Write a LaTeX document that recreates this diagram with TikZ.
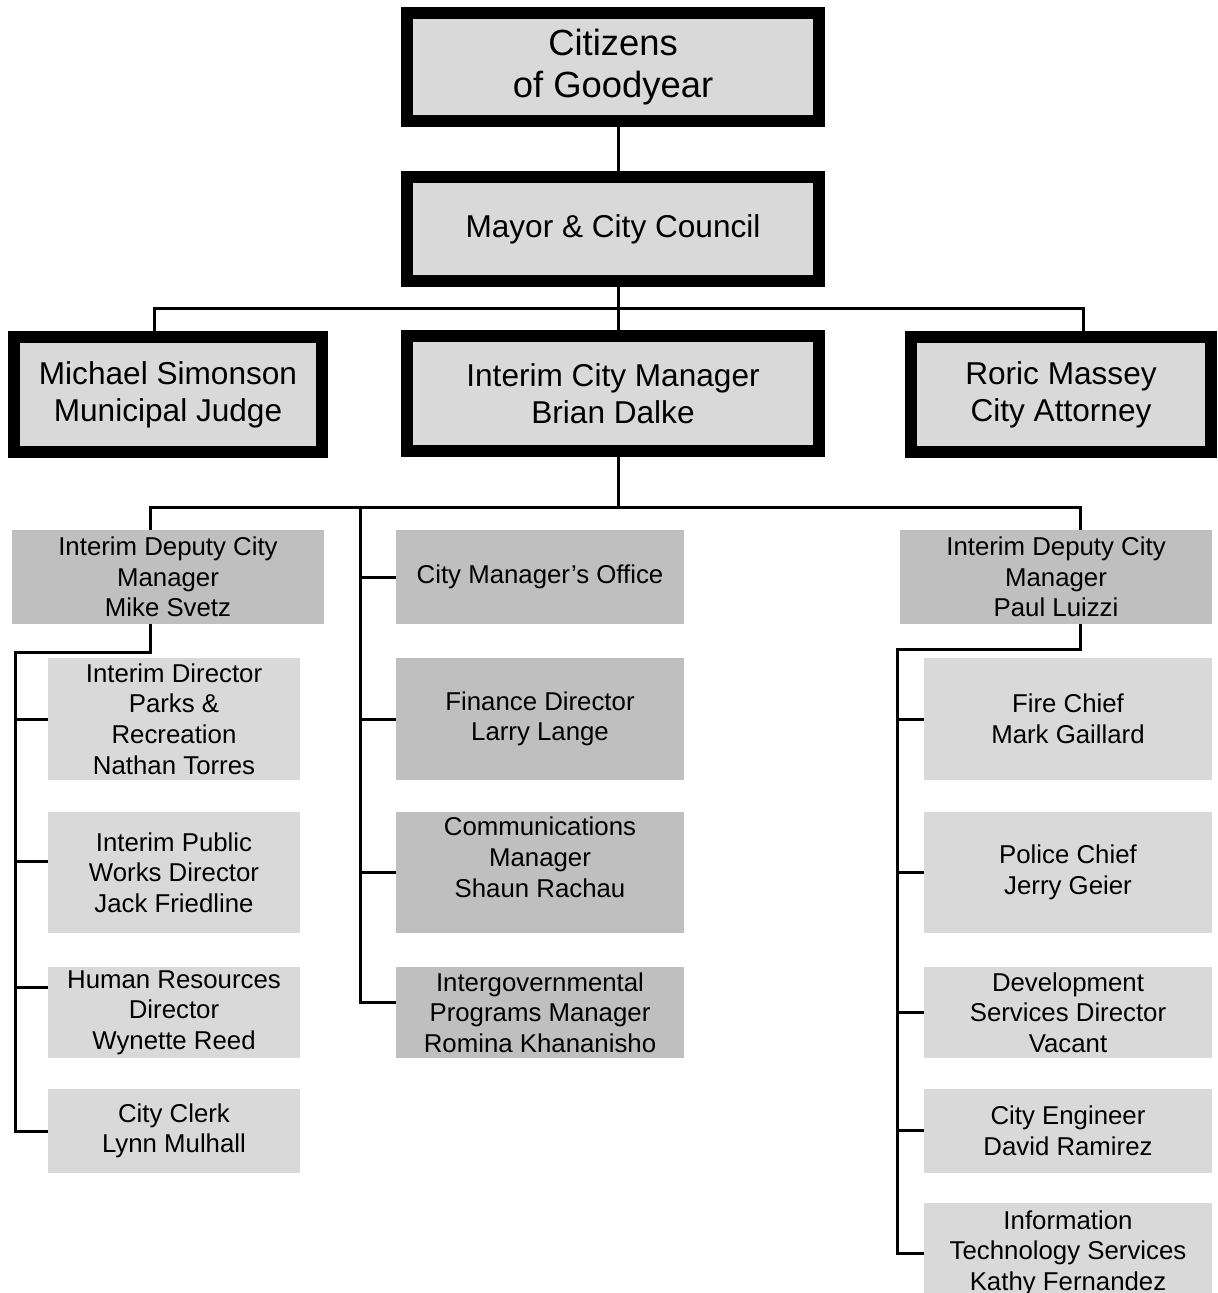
\documentclass[tikz,border=0pt]{standalone}
\usepackage{fontspec}
\setmainfont{Liberation Sans}
\usetikzlibrary{positioning}
\definecolor{boxgray}{RGB}{217,217,217}
\definecolor{midgray}{RGB}{191,191,191}
\newcommand{\bigfont}{\fontsize{18.2}{21}\selectfont}
\newcommand{\midfont}{\fontsize{15.8}{18.5}\selectfont}
\newcommand{\smallfont}{\fontsize{12.9}{15.3}\selectfont}

\begin{document}
\begin{tikzpicture}[x=0.5pt,y=-0.5pt,line width=1.5pt,
  headbox/.style={draw,line width=6pt,fill=boxgray,align=center,inner sep=0pt,font=\midfont},
  lightbox/.style={fill=boxgray,align=center,inner sep=0pt,outer sep=0pt,font=\smallfont},
  darkbox/.style={fill=midgray,align=center,inner sep=0pt,outer sep=0pt,font=\smallfont}]

\useasboundingbox (0,0) rectangle (1217,1293);

% top of the chart
\node[headbox,font=\bigfont,minimum width=206pt,minimum height=54pt] (citizens) at (613,67) {Citizens\\of Goodyear};
\node[headbox,minimum width=206pt,minimum height=52pt] (council) at (613,229) {Mayor \& City Council};

\node[headbox,minimum width=154pt,minimum height=57.5pt] (judge) at (168,395) {Michael Simonson\\Municipal Judge};
\node[headbox,minimum width=206pt,minimum height=57.5pt] (manager) at (613,393.5) {Interim City Manager\\Brian Dalke};
\node[headbox,minimum width=150pt,minimum height=57.5pt] (attorney) at (1061,395) {Roric Massey\\City Attorney};

% second level
\node[darkbox,minimum width=156pt,minimum height=47pt] (ldeputy) at (168,577) {Interim Deputy City\\Manager\\Mike Svetz};
\node[darkbox,minimum width=144pt,minimum height=47pt] (cmo) at (540,577) {City Manager’s Office};
\node[darkbox,minimum width=156pt,minimum height=47pt] (rdeputy) at (1056,577) {Interim Deputy City\\Manager\\Paul Luizzi};

% left column
\node[lightbox,minimum width=126pt,minimum height=61pt] (parks) at (174,719) {Interim Director\\Parks \&\\Recreation\\Nathan Torres};
\node[lightbox,minimum width=126pt,minimum height=60.5pt] (pworks) at (174,872.5) {Interim Public\\Works Director\\Jack Friedline};
\node[lightbox,minimum width=126pt,minimum height=45.5pt] (hr) at (174,1012.5) {Human Resources\\Director\\Wynette Reed};
\node[lightbox,minimum width=126pt,minimum height=42pt] (clerk) at (174,1131) {City Clerk\\Lynn Mulhall};

% middle column
\node[darkbox,minimum width=144pt,minimum height=61pt] (finance) at (540,719) {Finance Director\\Larry Lange};
\node[darkbox,minimum width=144pt,minimum height=60.5pt] (comms) at (540,872.5) {Communications\\Manager\\Shaun Rachau\\\mbox{}};
\node[darkbox,minimum width=144pt,minimum height=45.5pt] (intergov) at (540,1012.5) {Intergovernmental\\Programs Manager\\Romina Khananisho};

% right column
\node[lightbox,minimum width=144pt,minimum height=61pt] (fire) at (1068,719) {Fire Chief\\Mark Gaillard};
\node[lightbox,minimum width=144pt,minimum height=60.5pt] (police) at (1068,872.5) {Police Chief\\Jerry Geier};
\node[lightbox,minimum width=144pt,minimum height=45.5pt] (devserv) at (1068,1012.5) {Development\\Services Director\\Vacant};
\node[lightbox,minimum width=144pt,minimum height=42pt] (engineer) at (1068,1130.5) {City Engineer\\David Ramirez};
\node[lightbox,minimum width=144pt,minimum height=50pt] (itserv) at (1068,1253) {Information\\Technology Services\\Kathy Fernandez};

% connectors
\coordinate (bus) at (618,309);
\coordinate (bus2) at (618,507);
\coordinate (mspine) at (360,507);
\coordinate (lspine) at (15,652);
\coordinate (rspine) at (897,649);

\draw ([xshift=2.5pt]citizens.south) -- ([xshift=2.5pt]council.north);
\draw ([xshift=2.5pt]council.south) -- (bus) -- ([xshift=2.5pt]manager.north);
\draw ([xshift=-7pt]judge.north) |- (bus) -| ([xshift=11pt]attorney.north);

\draw ([xshift=2.5pt]manager.south) -- (bus2);
\draw ([xshift=-9pt]ldeputy.north) |- (bus2) -| ([xshift=12pt]rdeputy.north);

\draw (mspine) |- ([yshift=5.25pt]intergov.west);
\foreach \n in {cmo,finance,comms}
  \draw (\n.west) -- (\n.west -| mspine);

\draw ([xshift=-9pt]ldeputy.south) |- (lspine) |- (clerk.west);
\coordinate (pwjoin) at ([yshift=5.75pt]pworks.west);
\coordinate (hrjoin) at ([yshift=12.75pt]hr.west);
\foreach \n in {parks.west,pwjoin,hrjoin}
  \draw (\n) -- (\n -| lspine);

\draw ([xshift=12pt]rdeputy.south) |- (rspine) |- (itserv.west);
\foreach \n in {fire,police,devserv,engineer}
  \draw (\n.west) -- (\n.west -| rspine);
\end{tikzpicture}
\end{document}
